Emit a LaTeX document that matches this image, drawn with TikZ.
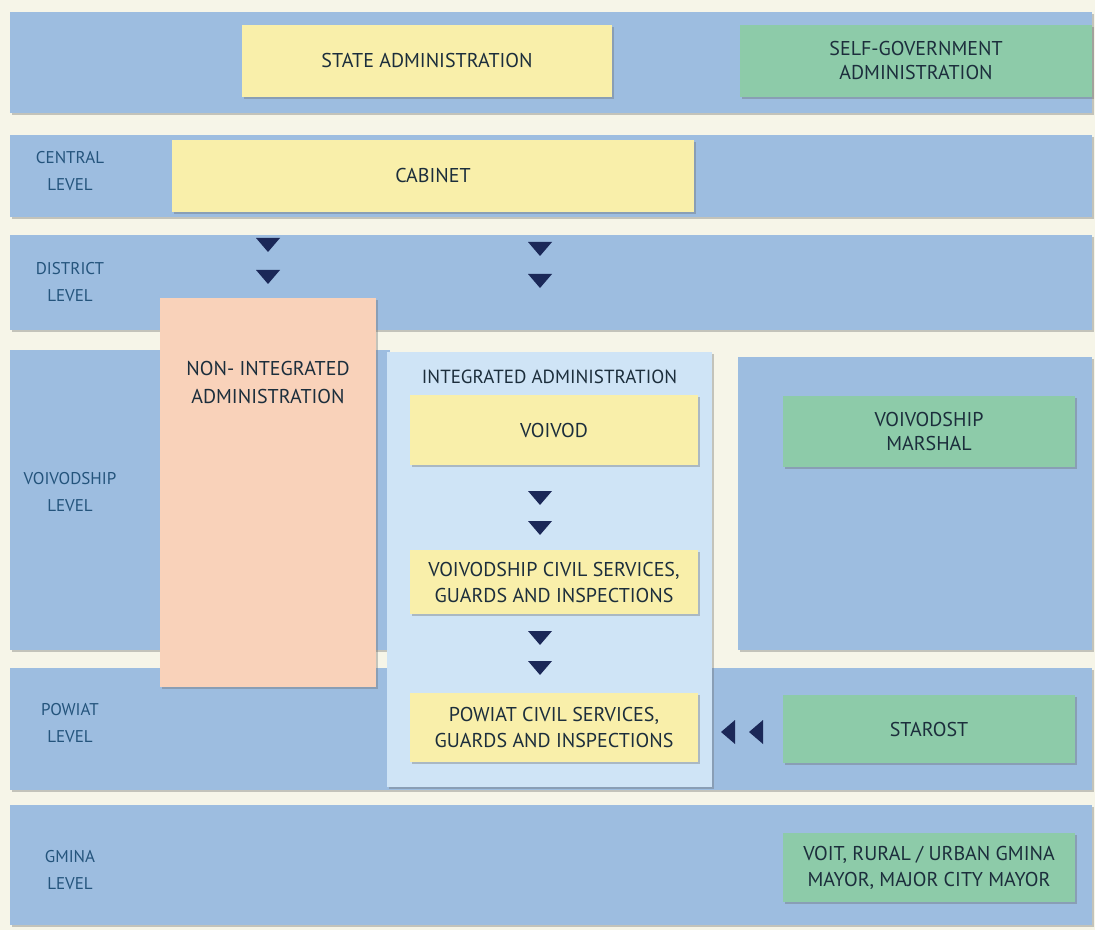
\documentclass[tikz,border=0pt]{standalone}
\usepackage{fontspec}
\setmainfont{PT Sans}
\usepackage{xcolor}
\definecolor{cream}{RGB}{246,245,232}
\definecolor{band}{RGB}{157,189,224}
\definecolor{stateyel}{RGB}{249,239,170}
\definecolor{selfgreen}{RGB}{141,203,169}
\definecolor{nonint}{RGB}{249,210,186}
\definecolor{intblue}{RGB}{207,228,246}
\definecolor{boxtext}{RGB}{28,46,60}
\definecolor{lvltext}{RGB}{36,84,124}
\definecolor{marker}{RGB}{27,40,88}
\usepackage{tikz}
\usetikzlibrary{positioning,shadows}

\tikzset{
  boxshadow/.style={drop shadow={shadow xshift=1.2pt, shadow yshift=-1.2pt, opacity=0.35, fill=black!60}},
  statebox/.style={fill=stateyel, boxshadow, align=center, inner sep=0pt, text=boxtext, font=\fontsize{10}{12}\selectfont},
  selfbox/.style={fill=selfgreen, boxshadow, align=center, inner sep=0pt, text=boxtext, font=\fontsize{10}{12}\selectfont},
  lvl/.style={align=center, text=lvltext, font=\fontsize{8.5}{13.5}\selectfont},
}

\begin{document}
\begin{tikzpicture}[x=0.5pt, y=-0.5pt]

% Page
\fill[cream] (0,0) rectangle (1095,930);
\useasboundingbox (0,0) rectangle (1095,930);

% Level bands
\fill[band, boxshadow] (10,12) rectangle (1092,113);
\fill[band, boxshadow] (10,135) rectangle (1092,217);
\fill[band, boxshadow] (10,235) rectangle (1092,330);
\fill[band, boxshadow] (10,350) rectangle (390,650);
\fill[band, boxshadow] (738,357) rectangle (1092,650);
\fill[band, boxshadow] (10,668) rectangle (1092,790);
\fill[band, boxshadow] (10,805) rectangle (1092,925);

% Level labels
\node[lvl] (central) at (70,171) {CENTRAL\\LEVEL};
\node[lvl] (district) at (70,282) {DISTRICT\\LEVEL};
\node[lvl] (voivlvl) at (70,492) {VOIVODSHIP\\LEVEL};
\node[lvl] (powlvl) at (70,723) {POWIAT\\LEVEL};
\node[lvl] (gminalvl) at (70,870) {GMINA\\LEVEL};

% Top row
\node[statebox, minimum width=185pt, minimum height=36pt] (state) at (427,61) {STATE ADMINISTRATION};
\node[selfbox, minimum width=176pt, minimum height=36pt] (selfgov) at (916,61) {SELF-GOVERNMENT\\ADMINISTRATION};

% Cabinet
\node[statebox, minimum width=261pt, minimum height=36pt] (cabinet) at (433,176) {CABINET};

% Non-integrated administration
\node[fill=nonint, boxshadow, minimum width=108pt, minimum height=194.5pt, inner sep=0pt] (nonintbox) at (268,492.5) {};
\node[align=center, text=boxtext, font=\fontsize{10}{14}\selectfont] (nonintlbl) at (268,382) {NON- INTEGRATED\\ADMINISTRATION};

% Integrated administration
\node[fill=intblue, boxshadow, minimum width=162.5pt, minimum height=217.5pt, inner sep=0pt] (intbox) at (549.5,569.5) {};
\node[text=boxtext, font=\fontsize{9.5}{11}\selectfont] (intlbl) at (549.5,377) {INTEGRATED ADMINISTRATION};

\node[statebox, minimum width=144pt, minimum height=35pt] (voivod) at (554,430) {VOIVOD};
\node[statebox, minimum width=144pt, minimum height=32pt, font=\fontsize{10}{13}\selectfont] (voivcs) at (554,582) {VOIVODSHIP CIVIL SERVICES,\\GUARDS AND INSPECTIONS};
\node[statebox, minimum width=144pt, minimum height=34.5pt, font=\fontsize{10}{13}\selectfont] (powcs) at (554,727.5) {POWIAT CIVIL SERVICES,\\GUARDS AND INSPECTIONS};

% Self-government side
\node[selfbox, minimum width=146pt, minimum height=35.5pt] (marshal) at (929,431.5) {VOIVODSHIP\\MARSHAL};
\node[selfbox, minimum width=146pt, minimum height=34pt] (starost) at (929,729) {STAROST};
\node[selfbox, minimum width=146pt, minimum height=34.5pt, font=\fontsize{10}{13}\selectfont] (voit) at (929,867.5) {VOIT, RURAL / URBAN GMINA\\MAYOR, MAJOR CITY MAYOR};

% Downward markers
\foreach \x/\y in {268/245, 268/277, 540/249, 540/281, 540/498, 540/528, 540/638, 540/668} {
    \fill[marker] (\x-12,\y-7) -- (\x+12,\y-7) -- (\x,\y+7) -- cycle;
}

% Leftward markers (starost to powiat services)
\foreach \x in {728,756} {
    \fill[marker] (\x+7,732-12) -- (\x+7,732+12) -- (\x-7,732) -- cycle;
}

\end{tikzpicture}
\end{document}
